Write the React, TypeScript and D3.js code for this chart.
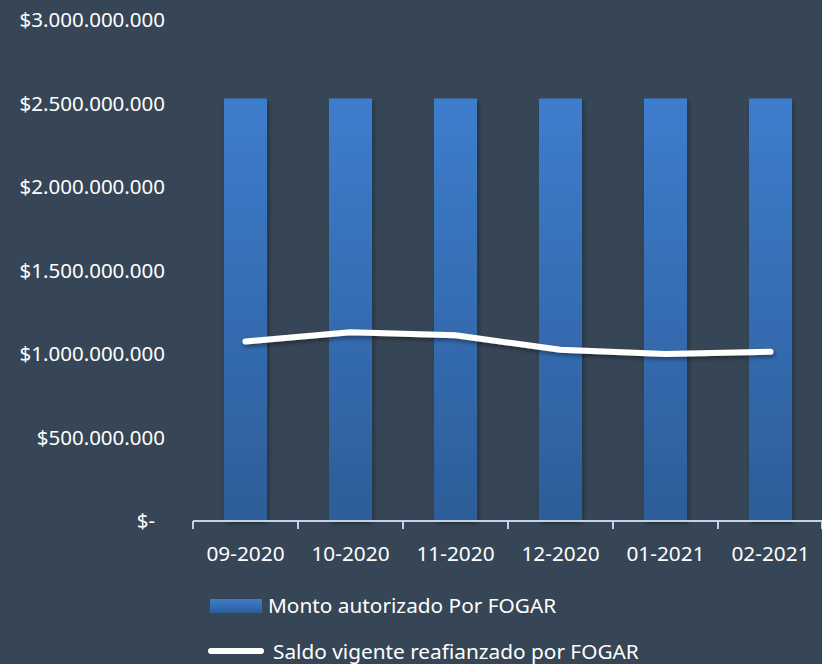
import React from "react";
import * as d3 from "d3";

const categories = ["09-2020", "10-2020", "11-2020", "12-2020", "01-2021", "02-2021"];
const montoAutorizado = [2530000000, 2530000000, 2530000000, 2530000000, 2530000000, 2530000000];
const saldoVigente = [1075000000, 1130000000, 1112000000, 1025000000, 1000000000, 1014000000];
const yTicks = [0, 500000000, 1000000000, 1500000000, 2000000000, 2500000000, 3000000000];
const seriesNames = ["Monto autorizado Por FOGAR", "Saldo vigente reafianzado por FOGAR"];

const W = 822;
const H = 664;
const BG = "#374656";
const FONT = "'Noto Sans', sans-serif";

function fmt(v: number): string {
  if (v === 0) return "$-";
  return "$" + d3.format(",.0f")(v).replace(/,/g, ".");
}

export default function App() {
  const x = d3.scaleBand<string>().domain(categories).range([193, 823]).paddingInner(0.59).paddingOuter(0.295);
  const xTick = d3.scaleBand<string>().domain(categories).range([193, 823]);
  const y = d3.scaleLinear().domain([0, 3000000000]).range([521, 20]);
  const line = d3
    .line<number>()
    .x((_, i) => (xTick(categories[i]) as number) + xTick.bandwidth() / 2)
    .y((d) => y(d));

  return (
    <svg width={W} height={H} style={{ position: "absolute", left: 0, top: 0, display: "block" }}>
      <defs>
        <linearGradient id="barGrad" x1="0" y1="0" x2="0" y2="1">
          <stop offset="0" stopColor="#3d7dcd" />
          <stop offset="1" stopColor="#2d5d98" />
        </linearGradient>
        <linearGradient id="legGrad" x1="0" y1="0" x2="0" y2="1">
          <stop offset="0" stopColor="#3d7dcd" />
          <stop offset="1" stopColor="#2d5d98" />
        </linearGradient>
        <filter id="shadow" x="-20%" y="-20%" width="140%" height="160%">
          <feDropShadow dx="1.5" dy="2.5" stdDeviation="2" floodColor="#000" floodOpacity="0.4" />
        </filter>
      </defs>
      <rect x={0} y={0} width={W} height={H} fill={BG} />
      {yTicks.map((t) => (
        <text
          key={t}
          x={t === 0 ? 155 : 165}
          y={y(t)}
          dy="0.35em"
          textAnchor="end"
          fill="#ffffff"
          fontFamily={FONT}
          fontSize={20.5}
        >
          {fmt(t)}
        </text>
      ))}
      <g filter="url(#shadow)">
        {categories.map((c, i) => (
          <rect
            key={c}
            x={x(c)}
            y={y(montoAutorizado[i])}
            width={x.bandwidth()}
            height={y(0) - y(montoAutorizado[i])}
            fill="url(#barGrad)"
          />
        ))}
      </g>
      <line x1={193} x2={823} y1={y(0)} y2={y(0)} stroke="#bfd3ea" strokeWidth={2} />
      {categories.map((c) => (
        <line
          key={"t" + c}
          x1={xTick(c)}
          x2={xTick(c)}
          y1={y(0)}
          y2={y(0) + 8}
          stroke="#bfd3ea"
          strokeWidth={2}
        />
      ))}
      <line x1={822} x2={822} y1={y(0)} y2={y(0) + 8} stroke="#bfd3ea" strokeWidth={2} />
      {categories.map((c) => (
        <text
          key={"l" + c}
          x={(xTick(c) as number) + xTick.bandwidth() / 2}
          y={561}
          textAnchor="middle"
          fill="#ffffff"
          fontFamily={FONT}
          fontSize={20.8}
        >
          {c}
        </text>
      ))}
      <path
        d={line(saldoVigente) || ""}
        fill="none"
        stroke="#ffffff"
        strokeWidth={6}
        strokeLinecap="round"
        strokeLinejoin="round"
        filter="url(#shadow)"
      />
      <rect x={210} y={599} width={52} height={14} fill="url(#legGrad)" />
      <text x={268} y={613} fill="#ffffff" fontFamily={FONT} fontSize={20.8}>
        {seriesNames[0]}
      </text>
      <line x1={211} x2={261} y1={651} y2={651} stroke="#ffffff" strokeWidth={6} strokeLinecap="round" />
      <text x={273} y={659} fill="#ffffff" fontFamily={FONT} fontSize={20.8}>
        {seriesNames[1]}
      </text>
    </svg>
  );
}
